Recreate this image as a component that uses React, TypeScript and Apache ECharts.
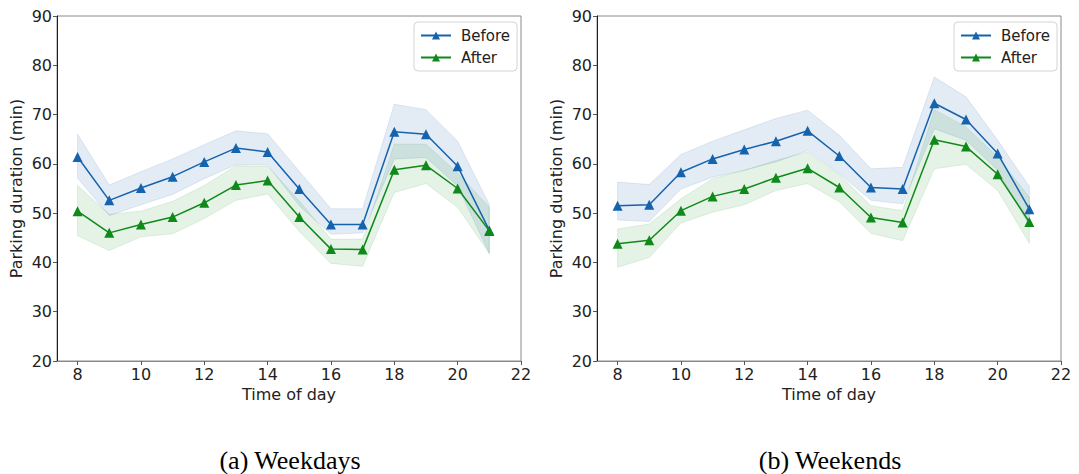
import React, { useEffect, useRef } from "react";
import * as echarts from "echarts";

const hours = [8, 9, 10, 11, 12, 13, 14, 15, 16, 17, 18, 19, 20, 21];
const xTicks = [8, 10, 12, 14, 16, 18, 20, 22];

// Weekdays
const wdBefore = [61.4, 52.6, 55.1, 57.4, 60.4, 63.2, 62.4, 54.9, 47.7, 47.7, 66.5, 66.0, 59.5, 46.5];
const wdBeforeUpper = [66.0, 55.7, 58.4, 61.0, 63.9, 66.7, 66.1, 58.5, 50.9, 50.9, 72.1, 71.0, 64.6, 51.7];
const wdBeforeLower = [57.1, 49.5, 51.7, 53.8, 57.0, 59.8, 59.8, 51.5, 45.7, 46.0, 61.0, 61.3, 55.5, 41.8];
const wdAfter = [50.4, 46.0, 47.7, 49.2, 52.1, 55.7, 56.6, 49.2, 42.7, 42.6, 58.8, 59.7, 55.0, 46.4];
const wdAfterUpper = [55.6, 49.8, 50.4, 52.4, 55.6, 59.6, 59.5, 52.5, 44.7, 44.7, 64.0, 64.0, 58.1, 51.2];
const wdAfterLower = [45.4, 42.4, 45.2, 45.8, 48.9, 52.6, 53.9, 46.3, 39.8, 39.2, 54.2, 56.0, 51.2, 41.8];

// Weekends
const weBefore = [51.5, 51.7, 58.3, 61.0, 62.9, 64.6, 66.7, 61.6, 55.2, 54.9, 72.3, 69.0, 62.1, 50.8];
const weBeforeUpper = [56.3, 55.8, 61.9, 64.6, 66.9, 69.2, 70.9, 65.8, 59.0, 59.3, 77.6, 73.6, 64.8, 55.4];
const weBeforeLower = [48.6, 48.3, 54.9, 57.3, 58.7, 60.4, 62.7, 58.0, 52.6, 51.9, 67.1, 64.8, 58.7, 47.5];
const weAfter = [43.8, 44.5, 50.5, 53.4, 54.9, 57.2, 59.1, 55.2, 49.1, 48.1, 64.9, 63.5, 57.9, 48.2];
const weAfterUpper = [46.8, 47.8, 52.9, 57.0, 58.7, 60.7, 62.4, 57.8, 51.5, 50.5, 71.0, 67.5, 61.4, 53.2];
const weAfterLower = [39.0, 41.0, 48.0, 50.2, 51.7, 54.6, 56.0, 52.3, 45.9, 44.4, 59.0, 59.9, 54.6, 43.9];

const captions = ["(a) Weekdays", "(b) Weekends"];

const BLUE = "#1562ad";
const GREEN = "#0f891a";
const BLUE_FILL = "rgba(21,98,173,0.12)";
const GREEN_FILL = "rgba(15,137,26,0.11)";
const FONT = "DejaVu Sans";
const TXT = "#222";

function band(idx: number, lower: number[], upper: number[], fill: string) {
  return {
    type: "custom",
    xAxisIndex: idx,
    yAxisIndex: idx,
    z: 1,
    silent: true,
    data: hours.map((h, i) => [h, lower[i], upper[i]]),
    encode: { x: 0, y: [1, 2] },
    renderItem: (params: any, api: any) => {
      if (params.dataIndex !== 0) return null;
      const pts: number[][] = [];
      for (let i = 0; i < hours.length; i++) pts.push(api.coord([hours[i], upper[i]]));
      for (let i = hours.length - 1; i >= 0; i--) pts.push(api.coord([hours[i], lower[i]]));
      return {
        type: "polygon",
        shape: { points: pts },
        style: { fill, stroke: fill, lineWidth: 1 },
      };
    },
  };
}

function line(idx: number, name: string, values: number[], color: string) {
  return {
    type: "line",
    name,
    xAxisIndex: idx,
    yAxisIndex: idx,
    z: 3,
    data: hours.map((h, i) => [h, values[i]]),
    symbol: "triangle",
    symbolSize: 10,
    showSymbol: true,
    lineStyle: { color, width: 1.5 },
    itemStyle: { color },
    emphasis: { disabled: true },
  };
}

function xAxisCfg(idx: number) {
  return {
    gridIndex: idx,
    type: "value",
    min: 7.35,
    max: 22,
    name: "Time of day",
    nameLocation: "middle",
    nameGap: 24,
    nameTextStyle: { fontFamily: FONT, fontSize: 16, color: TXT },
    axisLine: { show: true, onZero: false, lineStyle: { color: "#888", width: 1 } },
    axisTick: { show: true, customValues: xTicks, length: 4, lineStyle: { color: "#555" } },
    axisLabel: { customValues: xTicks, fontFamily: FONT, fontSize: 16, color: TXT, margin: 5 },
    splitLine: { show: false },
  };
}

function yAxisCfg(idx: number) {
  return {
    gridIndex: idx,
    type: "value",
    min: 20,
    max: 90,
    interval: 10,
    name: "Parking duration (min)",
    nameLocation: "middle",
    nameGap: 33,
    nameTextStyle: { fontFamily: FONT, fontSize: 16, color: TXT },
    axisLine: { show: true, onZero: false, lineStyle: { color: "#222", width: 1 } },
    axisTick: { show: true, length: 4, lineStyle: { color: "#555" } },
    axisLabel: { fontFamily: FONT, fontSize: 16, color: TXT, margin: 5 },
    splitLine: { show: false },
  };
}

function legendCfg(left: number) {
  return {
    left,
    top: 22,
    orient: "vertical",
    data: ["Before", "After"],
    itemWidth: 30,
    itemHeight: 10,
    itemGap: 7,
    padding: [6, 7, 6, 6],
    borderColor: "#d4d4d4",
    borderWidth: 1,
    borderRadius: 4,
    backgroundColor: "#fff",
    selectedMode: false,
    textStyle: { fontFamily: FONT, fontSize: 15, color: TXT, padding: [0, 0, 0, 5] },
  };
}

export default function App() {
  const ref = useRef<HTMLDivElement>(null);
  useEffect(() => {
    if (!ref.current) return;
    const chart = echarts.init(ref.current, null, { renderer: "svg" });
    chart.setOption({
      animation: false,
      backgroundColor: "#fff",
      grid: [
        { left: 57, top: 16, width: 464, height: 345, show: true, borderColor: "#8a8a8a", borderWidth: 1, backgroundColor: "transparent" },
        { left: 597, top: 16, width: 464, height: 345, show: true, borderColor: "#8a8a8a", borderWidth: 1, backgroundColor: "transparent" },
      ],
      xAxis: [xAxisCfg(0), xAxisCfg(1)],
      yAxis: [yAxisCfg(0), yAxisCfg(1)],
      legend: [legendCfg(414), legendCfg(954)],
      series: [
        band(0, wdBeforeLower, wdBeforeUpper, BLUE_FILL),
        band(0, wdAfterLower, wdAfterUpper, GREEN_FILL),
        line(0, "Before", wdBefore, BLUE),
        line(0, "After", wdAfter, GREEN),
        band(1, weBeforeLower, weBeforeUpper, BLUE_FILL),
        band(1, weAfterLower, weAfterUpper, GREEN_FILL),
        line(1, "Before", weBefore, BLUE),
        line(1, "After", weAfter, GREEN),
      ],
      graphic: [
        {
          type: "text",
          x: 290,
          y: 460,
          style: { text: captions[0], font: '26px "Liberation Serif"', fill: "#000", align: "center", verticalAlign: "middle" },
        },
        {
          type: "text",
          x: 830,
          y: 460,
          style: { text: captions[1], font: '26px "Liberation Serif"', fill: "#000", align: "center", verticalAlign: "middle" },
        },
      ],
    });
    return () => chart.dispose();
  }, []);
  return (
    <div
      ref={ref}
      style={{ position: "fixed", left: 0, top: 0, width: 1079, height: 474, background: "#fff" }}
    />
  );
}
